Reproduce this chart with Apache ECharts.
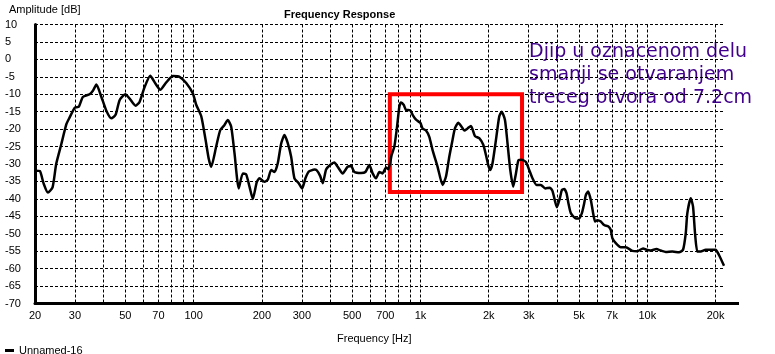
<!DOCTYPE html>
<html>
<head>
<meta charset="utf-8">
<script src="https://cdn.jsdelivr.net/npm/echarts@6/dist/echarts.min.js"></script>
<style>
  html, body { margin: 0; padding: 0; background: #fff; }
  #chart { width: 775px; height: 354px; }
</style>
</head>
<body>
<div id="chart"></div>
<script>
const freqs = [
  20, 21, 21.8, 22.8, 23.9, 24.8, 26.1, 27.5, 28.4, 30,
  31.2, 32.5, 34.8, 36, 37.3, 39.2, 41.3, 43.4, 45.3, 47.2,
  50, 52.2, 55.5, 57.8, 60.8, 64.4, 68, 71.3, 75.8, 81.1,
  86.7, 92.8, 99.3, 102.7, 108.1, 112.9, 116.7, 119.6, 125.8, 131.1,
  136.9, 141.5, 146.5, 151.5, 158.2, 164.8, 170.6, 176.4, 182.4, 189.9,
  195.2, 205.3, 212.4, 219.8, 227.3, 235, 243.3, 251.6, 260.1, 269.2,
  278.3, 290.8, 301, 311.2, 321.8, 340.9, 348.9, 361.3, 370.9, 383.8,
  399.7, 417.5, 431.8, 454.2, 477.8, 494.7, 511.4, 547.3, 571.8, 595.4,
  615.6, 637.3, 659, 681.4, 705.3, 722, 746.6, 767.4, 788.7, 807.3,
  821.3, 843, 863.8, 902.3, 923.6, 956, 998.6, 1022, 1058, 1094,
  1131, 1190, 1252, 1296, 1340, 1385, 1419, 1468, 1518, 1560,
  1613, 1670, 1739, 1816, 1892, 1944, 1990, 2030, 2078, 2152,
  2225, 2278, 2357, 2420, 2488, 2564, 2636, 2706, 2790, 2916,
  3016, 3118, 3248, 3395, 3547, 3720, 3818, 3924, 3994, 4116,
  4200, 4300, 4400, 4492, 4602, 4842, 5006, 5146, 5268, 5358,
  5484, 5636, 5770, 5888, 6028, 6238, 6450, 6738, 6902, 7016,
  7262, 7640, 8036, 8594, 9040, 9578, 9904, 10356, 10962, 11464,
  12060, 12892, 13800, 14370, 14770, 15012, 15538, 15906, 16232, 16614,
  17198, 18090, 19344, 20000, 20700, 21780
];
const amps = [
  -31.9, -32, -35.5, -38.2, -36.7, -30, -24.4, -18.6, -16.7, -13.8,
  -13.6, -10.8, -10, -9, -7.2, -10.7, -14.8, -16.9, -15.9, -11.7,
  -10, -11.2, -13.3, -12.2, -8, -4.7, -7, -8.7, -6.6, -4.8,
  -5, -6.8, -9.8, -13, -16.3, -23, -28.6, -30.8, -25, -20.3,
  -18.8, -17.4, -19.3, -26.9, -37, -32.7, -33, -36.5, -40, -35.2,
  -34.1, -35.1, -34.5, -31.7, -32.3, -29.8, -24.1, -21.7, -24, -27.9,
  -34.1, -35.5, -37, -34.1, -32.2, -31.6, -31.8, -33.4, -35.5, -31.6,
  -30.3, -29.6, -30.8, -32.7, -30.8, -30.6, -32.3, -32.6, -32.3, -30.3,
  -32.7, -34.1, -32.3, -32.7, -31, -31.5, -27.4, -25, -19.3, -13.6,
  -12.4, -13, -14.5, -14.6, -15.9, -17.3, -18.2, -19.8, -20.4, -22.2,
  -26, -30.8, -36, -33.6, -27.9, -23.1, -19.8, -18.2, -19.3, -20.4,
  -19.8, -19.1, -22, -22.6, -24.5, -27.4, -30.3, -31.7, -29.8, -23.1,
  -16.4, -15, -17.3, -24.1, -31.7, -36.5, -32.7, -28.9, -28.8, -29.4,
  -31.7, -34.1, -36, -36, -37, -36.8, -37.7, -40.8, -42.4, -39.8,
  -37.5, -37.2, -38.3, -41.3, -44.1, -45.6, -45.6, -44.1, -41.3, -38.9,
  -37.9, -40.3, -44.1, -46.5, -46.1, -46.5, -47.5, -47.9, -48.9, -51.3,
  -52.7, -53.9, -53.9, -54.9, -55, -54.2, -54.6, -54.8, -54.4, -54.8,
  -55.2, -55.1, -55.3, -54.6, -49.9, -44.1, -39.8, -42.2, -49.9, -55.1,
  -55.1, -54.6, -54.6, -54.6, -56.1, -59.2
];

// grid lines and labels on the frequency axis
const gridFreqs = [20, 30, 40, 50, 60, 70, 80, 90, 100, 200, 300, 400, 500, 600, 700, 800, 900,
  1000, 2000, 3000, 4000, 5000, 6000, 7000, 8000, 9000, 10000, 20000];
const labelFreqs = [20, 30, 50, 70, 100, 200, 300, 500, 700, 1000, 2000, 3000, 5000, 7000, 10000, 20000];

// marked region (red box)
const boxFreqs = [733, 2804];
const boxAmps = [-10, -38];

const note = ['Djip u oznacenom delu', 'smanji se otvaranjem', 'treceg otvora od 7.2cm'];

const chart = echarts.init(document.getElementById('chart'));
const font = 'Liberation Sans, Arial, sans-serif';

const option = {
  animation: false,
  textStyle: { fontFamily: font },
  title: [
    { text: 'Frequency Response', left: 279, top: 4,
      textStyle: { fontSize: 11, fontWeight: 'bold', color: '#000', fontFamily: font } },
    { text: 'Amplitude [dB]', left: 4, top: -1,
      textStyle: { fontSize: 11, fontWeight: 'normal', color: '#000', fontFamily: font } },
    { text: 'Frequency [Hz]', left: 332, top: 328,
      textStyle: { fontSize: 11, fontWeight: 'normal', color: '#000', fontFamily: font } }
  ],
  legend: {
    left: 0, top: 340,
    icon: 'rect', itemWidth: 9, itemHeight: 3, itemGap: 6,
    textStyle: { fontSize: 11, color: '#000', fontFamily: font },
    data: ['Unnamed-16']
  },
  grid: { left: 35, right: 50, top: 24.5, bottom: 50.5 },
  xAxis: {
    type: 'log',
    min: 20,
    max: 22000,
    axisLine: { show: true, onZero: false, lineStyle: { color: '#000', width: 3 } },
    axisTick: { show: false, customValues: gridFreqs },
    axisLabel: {
      customValues: labelFreqs,
      fontSize: 11, color: '#000', margin: 7,
      formatter: v => {
        const n = Math.round(v);
        return n >= 1000 ? (n / 1000) + 'k' : String(n);
      }
    },
    splitLine: { show: true, lineStyle: { color: '#000', width: 1, type: [3, 2] } }
  },
  yAxis: {
    type: 'value',
    min: -70,
    max: 10,
    interval: 5,
    axisLine: { show: true, lineStyle: { color: '#000', width: 3 } },
    axisTick: { show: false },
    axisLabel: { fontSize: 11, color: '#000', align: 'left', margin: 30 },
    splitLine: { show: true, lineStyle: { color: '#000', width: 1, type: [3, 2] } }
  },
  graphic: [{
    type: 'text',
    left: 529, top: 41,
    style: {
      text: note.join('\n'),
      font: '19px "DejaVu Sans", Verdana, sans-serif',
      lineHeight: 23,
      fill: '#40008a'
    }
  }, {
    // the frame's bottom line runs a little past the plot
    type: 'rect',
    left: 724, top: 302,
    shape: { width: 15, height: 3 },
    style: { fill: '#000' }
  }],
  series: [{
    name: 'Unnamed-16',
    type: 'line',
    symbol: 'none',
    smooth: 0.2,
    color: '#000',
    lineStyle: { color: '#000', width: 2.5 },
    data: freqs.map((f, i) => [f, amps[i]]),
    markArea: {
      silent: true,
      itemStyle: { color: 'rgba(0,0,0,0)', borderColor: '#ff0000', borderWidth: 4 },
      data: [[
        { coord: [boxFreqs[0], boxAmps[0]] },
        { coord: [boxFreqs[1], boxAmps[1]] }
      ]]
    }
  }]
};
chart.setOption(option);
</script>
</body>
</html>
